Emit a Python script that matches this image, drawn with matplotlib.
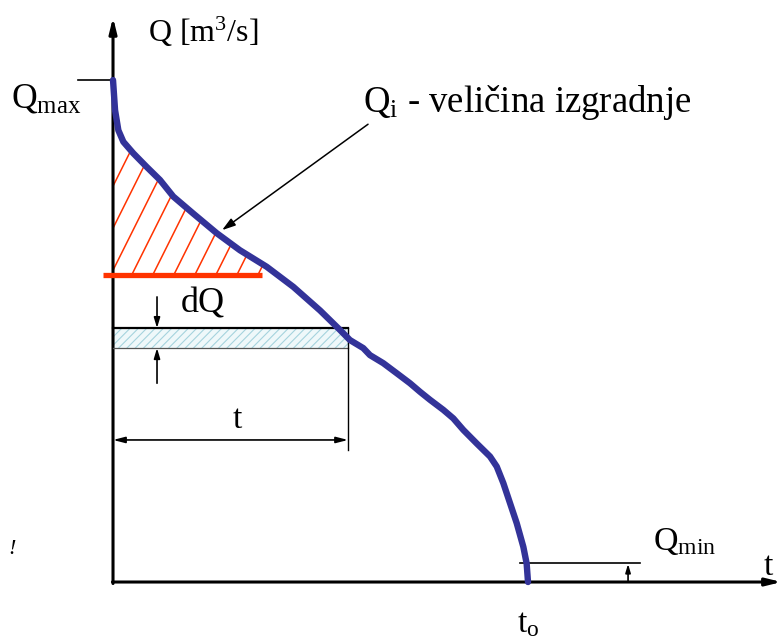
import matplotlib.pyplot as plt
import numpy as np
from matplotlib.patches import Polygon, Rectangle

plt.rcParams['font.family'] = ['Liberation Serif', 'DejaVu Serif']
plt.rcParams['mathtext.fontset'] = 'custom'
plt.rcParams['mathtext.rm'] = 'Liberation Serif'
plt.rcParams['mathtext.it'] = 'Liberation Serif:italic'
plt.rcParams['hatch.linewidth'] = 0.8

# flow duration curve: time t [days] vs discharge Q [m3/s]
t_curve = [0, 1.8, 4.7, 9.1, 17.9, 29.6, 41.3, 53.0, 70.6, 91.2, 111.6, 135.2,
           158.6, 182.1, 199.7, 208.4, 220.1, 226.0, 237.7, 249.5, 261.2, 270.0,
           278.8, 290.5, 299.3, 308.1, 319.9, 331.6, 337.5, 343.3, 349.2, 355.1,
           360.9, 363.8, 365]
Q_curve = [100, 94.0, 90.0, 87.7, 85.4, 82.7, 80.1, 76.8, 73.4, 69.5, 66.1, 62.8,
           58.8, 54.1, 50.2, 48.2, 46.6, 45.2, 43.6, 41.6, 39.6, 37.9, 36.3, 34.3,
           32.6, 30.3, 27.6, 25.0, 23.0, 19.7, 15.7, 11.7, 7.0, 3.7, 0]

Q_max = 100
Q_min = 3.8
Q_i = 61.2          # installed discharge
t_o = 365
dQ_low, dQ_high = 46.6, 50.6
t_dq = 206.7        # duration of discharge in the dQ strip

blue = '#333399'
red = '#FF3300'

fig = plt.figure(figsize=(7.77, 6.42), dpi=100, facecolor='white')
ax = fig.add_axes([0, 0, 1, 1])
ax.set_xlim(-99.4, 584.0)
ax.set_ylim(-11.95, 115.95)
ax.axis('off')

# axes with arrows
ax.annotate('', xy=(0, 112.5), xytext=(0, -0.3), annotation_clip=False,
            arrowprops=dict(arrowstyle='-|>,head_length=0.9,head_width=0.22',
                            color='black', lw=2.2, shrinkA=0, shrinkB=0))
ax.annotate('', xy=(588, 0), xytext=(-0.5, 0), annotation_clip=False,
            arrowprops=dict(arrowstyle='-|>,head_length=0.9,head_width=0.22',
                            color='black', lw=2.2, shrinkA=0, shrinkB=0))

# Qmax tick
ax.plot([-30.8, 0], [Q_max, Q_max], color='black', lw=1.2)

# hatched area above Q_i
t_c = np.array(t_curve)
q_c = np.array(Q_curve)
q_top = 86.5
t_at_qi = np.interp(Q_i, q_c[::-1], t_c[::-1])
t_at_top = np.interp(q_top, q_c[::-1], t_c[::-1])
inside = (q_c > Q_i) & (q_c < q_top)
verts = [(0, Q_i), (t_at_qi, Q_i)]
verts += list(zip(t_c[inside][::-1], q_c[inside][::-1]))
verts += [(t_at_top, q_top), (0, q_top)]
clip = Polygon(verts, closed=True, facecolor='none', edgecolor='none')
ax.add_patch(clip)
slope = 0.453
for t0 in np.arange(-150, 160, 18.5):
    tt = np.array([t0, t0 + 80])
    line, = ax.plot(tt, Q_i + slope * (tt - t0), color=red, lw=1.1)
    line.set_clip_path(clip)

ax.plot([-8.8, 131], [Q_i, Q_i], color=red, lw=3.8, solid_capstyle='butt', zorder=4)

# dQ strip
ax.add_patch(Rectangle((0, dQ_low), t_dq, dQ_high - dQ_low, facecolor='#EFF8FA',
                       edgecolor='#A6D3DD', lw=0, hatch='////', zorder=2))
ax.plot([0, t_dq], [dQ_high, dQ_high], color='black', lw=1.6, zorder=3)
ax.plot([0, t_dq], [dQ_low, dQ_low], color='#555555', lw=0.9, zorder=3)
ax.plot([t_dq, t_dq], [dQ_high, 26.3], color='black', lw=1.0, zorder=3)

# dQ arrows
ax.annotate('', xy=(38.7, dQ_high), xytext=(38.7, 56.8),
            arrowprops=dict(arrowstyle='-|>,head_length=0.6,head_width=0.18',
                            color='black', lw=1.2, shrinkA=0, shrinkB=0))
ax.annotate('', xy=(38.7, dQ_low), xytext=(38.7, 39.6),
            arrowprops=dict(arrowstyle='-|>,head_length=0.6,head_width=0.18',
                            color='black', lw=1.2, shrinkA=0, shrinkB=0))

# duration t dimension
ax.annotate('', xy=(0, 28.3), xytext=(t_dq, 28.3),
            arrowprops=dict(arrowstyle='<|-|>,head_length=0.7,head_width=0.18',
                            color='black', lw=1.2, shrinkA=0, shrinkB=0))

# Qmin line and arrow
ax.plot([358, 463.5], [Q_min, Q_min], color='black', lw=1.2)
ax.annotate('', xy=(453, Q_min - 0.2), xytext=(453, 0),
            arrowprops=dict(arrowstyle='-|>,head_length=0.5,head_width=0.15',
                            color='black', lw=1.2, shrinkA=0, shrinkB=0))

# curve
ax.plot(t_curve, Q_curve, color=blue, lw=4.6, solid_capstyle='round',
        solid_joinstyle='round', zorder=5)

# Qi annotation
ax.annotate('', xy=(95.9, 70.1), xytext=(224.3, 91.2),
            arrowprops=dict(arrowstyle='-|>,head_length=0.8,head_width=0.25',
                            color='black', lw=1.1, shrinkA=0, shrinkB=0))

ax.text(30.8, 107.6, r'Q [m$^{3}$/s]', fontsize=23, ha='left', va='baseline')
ax.text(-89.4, 94.6, r'Q$_{\mathrm{max}}$', fontsize=25.6, ha='left', va='baseline')
ax.text(219.9, 93.6, r'Q$_{\mathrm{i}}$ - veličina izgradnje', fontsize=26.5,
        ha='left', va='baseline')
ax.text(59.8, 53.6, 'dQ', fontsize=26, ha='left', va='baseline')
ax.text(109, 30.7, 't', fontsize=24, ha='center', va='baseline')
ax.text(355.3, -10.0, r't$_{\mathrm{o}}$', fontsize=24, ha='left', va='baseline')
ax.text(474.5, 6.4, r'Q$_{\mathrm{min}}$', fontsize=24.5, ha='left', va='baseline')
ax.text(572.5, 1.4, 't', fontsize=24, ha='left', va='baseline')
ax.text(-88.6, 6.5, '!', fontsize=16, style='italic', ha='center', va='center')

fig.savefig('out.png', dpi=100, facecolor='white')
